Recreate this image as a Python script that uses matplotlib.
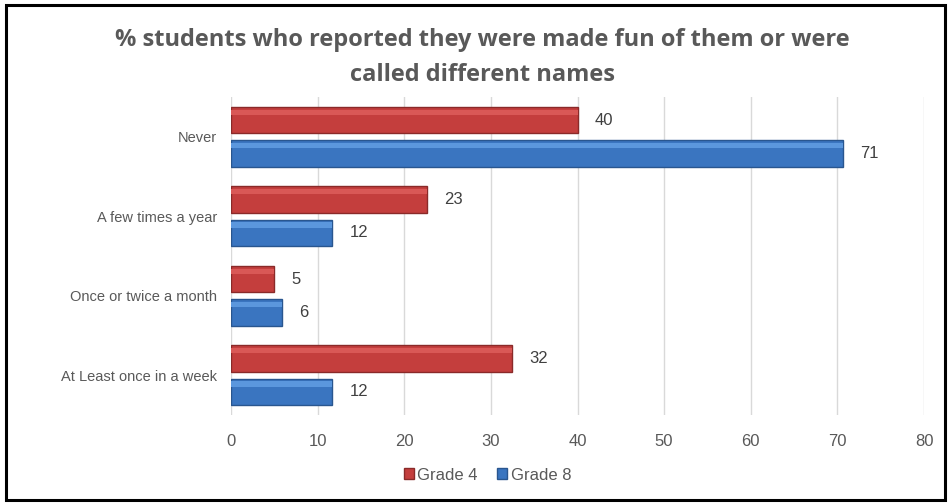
import matplotlib
matplotlib.use('Agg')
import matplotlib.pyplot as plt
import numpy as np
from matplotlib.patches import Rectangle

categories = ['Never', 'A few times a year', 'Once or twice a month', 'At Least once in a week']
grade4 = [40.0, 22.6, 5.0, 32.4]
grade8 = [70.6, 11.7, 5.85, 11.7]
labels4 = ['40', '23', '5', '32']
labels8 = ['71', '12', '6', '12']

plt.rcParams['font.family'] = ['Liberation Sans', 'DejaVu Sans']

fig = plt.figure(figsize=(9.5, 5.04), dpi=100)
ax = fig.add_axes([231 / 950, 1 - 415 / 504, (924 - 231) / 950, (415 - 97) / 504])

y = np.arange(len(categories))
h = 0.33
off = 0.21
red = '#C43E3D'
blue = '#3A75C0'
b4 = ax.barh(y - off, grade4, height=h, color=red, edgecolor='#8A2A29', linewidth=1.0, label='Grade 4', zorder=3)
b8 = ax.barh(y + off, grade8, height=h, color=blue, edgecolor='#29568F', linewidth=1.0, label='Grade 8', zorder=3)

# soft bevel highlight near the top of each bar
ax.barh(y - off - h * 0.3, grade4, height=h * 0.2, color='#D95856', linewidth=0, zorder=4)
ax.barh(y + off - h * 0.3, grade8, height=h * 0.2, color='#5B97DD', linewidth=0, zorder=4)

for rect, t in zip(b4, labels4):
    ax.text(rect.get_width() + 2, rect.get_y() + rect.get_height() / 2, t,
            va='center', ha='left', fontsize=12, color='#404040')
for rect, t in zip(b8, labels8):
    ax.text(rect.get_width() + 2, rect.get_y() + rect.get_height() / 2, t,
            va='center', ha='left', fontsize=12, color='#404040')

ax.set_xlim(0, 80)
ax.set_ylim(len(categories) - 0.5, -0.5)
ax.set_xticks(np.arange(0, 81, 10))
ax.set_yticks(y)
ax.set_yticklabels(categories, fontsize=10.5, color='#595959')
ax.tick_params(axis='x', labelsize=12, labelcolor='#595959', length=0, pad=14)
ax.tick_params(axis='y', length=0, pad=10)
ax.grid(axis='x', color='#D9D9D9', linewidth=1, zorder=0)
for s in ax.spines.values():
    s.set_visible(False)

fig.text(0.508, 1 - 40 / 504, '% students who reported they were made fun of them or were',
         ha='center', va='center', fontsize=17, fontweight='bold', color='#595959',
         family=['Open Sans', 'DejaVu Sans'])
fig.text(0.508, 1 - 75 / 504, 'called different names',
         ha='center', va='center', fontsize=17, fontweight='bold', color='#595959',
         family=['Open Sans', 'DejaVu Sans'])

leg = fig.legend(handles=[b4, b8], loc='center', bbox_to_anchor=(0.513, 1 - 475 / 504),
                 ncol=2, frameon=False, fontsize=12, handlelength=0.6, handleheight=0.6,
                 handletextpad=0.2, columnspacing=1.2)
for t in leg.get_texts():
    t.set_color('#595959')

fig.patches.append(Rectangle((6 / 950, 4 / 504), 939 / 950, 495 / 504, transform=fig.transFigure,
                             fill=False, edgecolor='black', linewidth=2.2))

fig.savefig('out.png', dpi=100)
